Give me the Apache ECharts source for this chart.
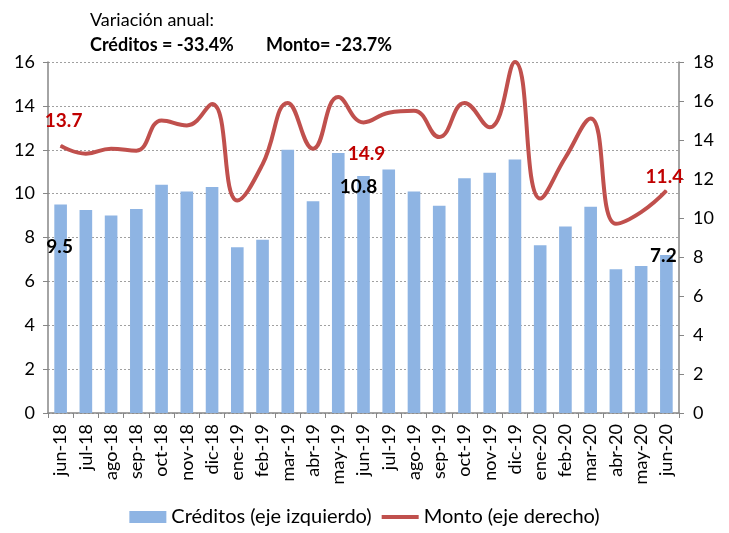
<!DOCTYPE html>
<html>
<head>
<meta charset="utf-8">
<script src="https://cdn.jsdelivr.net/npm/echarts@6/dist/echarts.min.js"></script>
<style>
  html, body { margin: 0; padding: 0; background: #fff; }
  #chart { width: 729px; height: 533px; }
</style>
</head>
<body>
<div id="chart"></div>
<script>
// meses (eje x)
const meses = ['jun-18', 'jul-18', 'ago-18', 'sep-18', 'oct-18', 'nov-18', 'dic-18',
  'ene-19', 'feb-19', 'mar-19', 'abr-19', 'may-19', 'jun-19', 'jul-19', 'ago-19',
  'sep-19', 'oct-19', 'nov-19', 'dic-19', 'ene-20', 'feb-20', 'mar-20', 'abr-20',
  'may-20', 'jun-20']
// créditos (eje izquierdo)
const creditos = [9.5, 9.25, 9.0, 9.3, 10.4, 10.1, 10.3, 7.55, 7.9, 12.0, 9.65, 11.85,
  10.8, 11.1, 10.1, 9.45, 10.7, 10.95, 11.55, 7.65, 8.5, 9.4, 6.55, 6.7, 7.2]
// monto (eje derecho)
const monto = [13.7, 13.3, 13.55, 13.45, 15.0, 14.75, 15.85, 10.9, 12.75, 15.9, 13.55,
  16.2, 14.9, 15.4, 15.5, 14.15, 15.9, 14.65, 18.0, 11.0, 13.1, 15.1, 9.7, 10.3, 11.4]
// índices con etiqueta
const etiquetas = [0, 12, 24]

const FONT = 'Lato'
const myChart = echarts.init(document.getElementById('chart'))

// posiciones de etiquetas para barras y línea
const barLabel = {
  0: { position: 'insideTop', distance: 33, offset: [-1, 0] },
  12: { position: 'insideTop', distance: 1, offset: [-5, 0] },
  24: { position: 'insideTop', distance: -9, offset: [-3, 0] }
}
const lineLabel = {
  0: { position: 'top', distance: 15, offset: [3, 0] },
  12: { position: 'bottom', distance: 21, offset: [3, 0] },
  24: { position: 'top', distance: 4, offset: [-2, 0] }
}

const barData = creditos.map((v, i) => etiquetas.includes(i) ? {
  value: v,
  label: Object.assign({ show: true, color: '#000', fontWeight: 'bold', fontSize: 19, fontFamily: FONT }, barLabel[i])
} : v)

const lineData = monto.map((v, i) => etiquetas.includes(i) ? {
  value: v,
  label: Object.assign({ show: true, color: '#C00000', fontWeight: 'bold', fontSize: 19, fontFamily: FONT }, lineLabel[i])
} : v)

const axisGris = '#868686'

const option = {
  animation: false,
  textStyle: { fontFamily: FONT },
  title: [
    { text: 'Variación anual:', left: 85, top: 6, textStyle: { fontFamily: FONT, fontSize: 18, fontWeight: 'normal', color: '#000' } },
    { text: 'Créditos = -33.4%', left: 85, top: 31, textStyle: { fontFamily: FONT, fontSize: 18, fontWeight: 'bold', color: '#000' } },
    { text: 'Monto= -23.7%', left: 261, top: 31, textStyle: { fontFamily: FONT, fontSize: 18, fontWeight: 'bold', color: '#000' } }
  ],
  legend: {
    bottom: 1,
    left: 'center',
    itemWidth: 37,
    itemHeight: 12,
    itemGap: 10,
    textStyle: { fontFamily: FONT, fontSize: 20, color: '#000' },
    data: [
      { name: 'Créditos (eje izquierdo)', icon: 'rect' },
      { name: 'Monto (eje derecho)', icon: 'path://M0,0 L37,0 L37,4 L0,4 Z' }
    ]
  },
  grid: { left: 48, right: 50, top: 62, bottom: 120 },
  xAxis: {
    type: 'category',
    data: meses,
    boundaryGap: true,
    axisLine: { lineStyle: { color: axisGris, width: 1.5 } },
    axisTick: { show: true, length: 5, lineStyle: { color: axisGris } },
    axisLabel: { rotate: 90, interval: 0, margin: 11, color: '#000', fontSize: 18, fontFamily: FONT }
  },
  yAxis: [
    {
      type: 'value', min: 0, max: 16, interval: 2,
      axisLine: { show: true, lineStyle: { color: axisGris, width: 1.5 } },
      axisTick: { show: true, length: 5, lineStyle: { color: axisGris } },
      axisLabel: { color: '#000', fontSize: 18, fontFamily: FONT, margin: 13 },
      splitLine: { show: true, lineStyle: { color: '#a0a0a0', type: [2, 2], width: 1 } }
    },
    {
      type: 'value', min: 0, max: 18, interval: 2, position: 'right',
      axisLine: { show: true, lineStyle: { color: axisGris, width: 1.5 } },
      axisTick: { show: true, length: 5, lineStyle: { color: axisGris } },
      axisLabel: { color: '#000', fontSize: 18, fontFamily: FONT, margin: 14 },
      splitLine: { show: false }
    }
  ],
  series: [
    {
      name: 'Créditos (eje izquierdo)',
      type: 'bar',
      yAxisIndex: 0,
      barWidth: '50%',
      itemStyle: { color: '#8EB4E3' },
      data: barData
    },
    {
      name: 'Monto (eje derecho)',
      type: 'line',
      yAxisIndex: 1,
      smooth: 0.45,
      symbol: 'circle',
      symbolSize: 1,
      itemStyle: { color: '#C0504D' },
      lineStyle: { color: '#C0504D', width: 4 },
      data: lineData
    }
  ]
}

myChart.setOption(option)
</script>
</body>
</html>
